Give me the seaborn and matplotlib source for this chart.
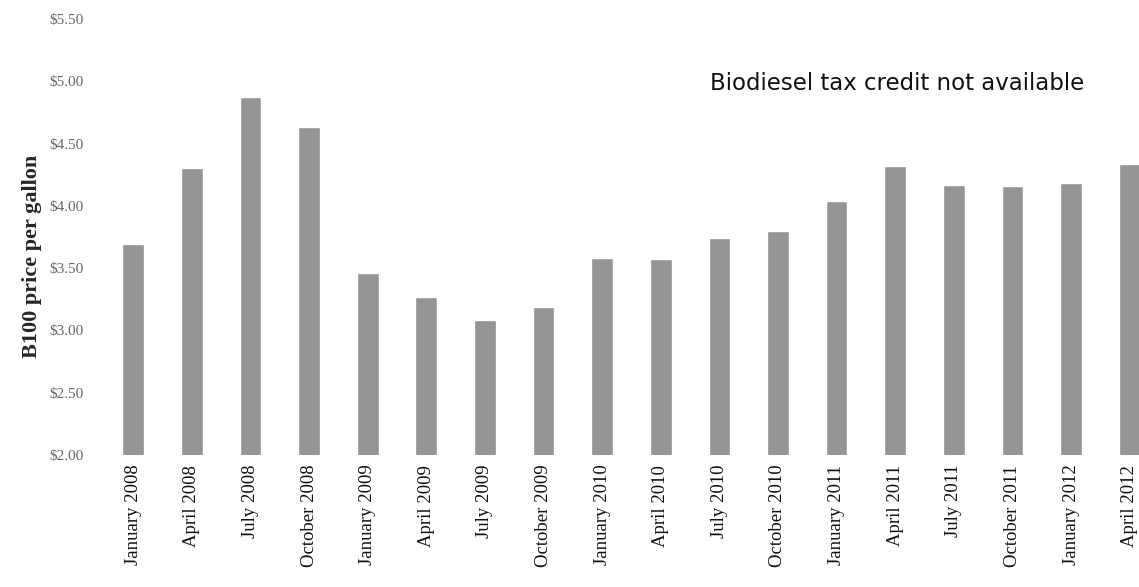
import pandas as pd
import seaborn as sns
import matplotlib
matplotlib.use('Agg')
import matplotlib.pyplot as plt

# quarterly B100 prices
months = ['January 2008', 'April 2008', 'July 2008', 'October 2008',
          'January 2009', 'April 2009', 'July 2009', 'October 2009',
          'January 2010', 'April 2010', 'July 2010', 'October 2010',
          'January 2011', 'April 2011', 'July 2011', 'October 2011',
          'January 2012', 'April 2012']
prices = [3.69, 4.30, 4.87, 4.63,
          3.46, 3.27, 3.08, 3.19,
          3.58, 3.57, 3.74, 3.80,
          4.04, 4.32, 4.17, 4.16,
          4.18, 4.34]
y_ticks = [2.00, 2.50, 3.00, 3.50, 4.00, 4.50, 5.00, 5.50]

df = pd.DataFrame({'month': months, 'price': prices})

sns.set_theme(style='white')

fig = plt.figure(figsize=(11.39, 5.87), dpi=100)
ax = fig.add_axes([104 / 1139, 1 - 455 / 587, (1139 - 104) / 1139, (455 - 19) / 587])

sns.barplot(data=df, x='month', y='price', color='#959595', width=0.37,
            saturation=1, ax=ax)

ax.set_ylim(2.0, 5.5)
ax.set_xlim(-0.5, 17.16)
ax.set_yticks(y_ticks)
ax.set_yticklabels(['${:.2f}'.format(v) for v in y_ticks],
                   fontfamily='Liberation Serif', fontsize=11, color='#666666')
ax.set_xticks(range(len(months)))
ax.set_xticklabels(months, rotation=90, fontfamily='Liberation Serif',
                   fontsize=13.5, color='#111111')
ax.tick_params(axis='y', length=0, pad=15)
ax.tick_params(axis='x', length=0, pad=7)

for s in ax.spines.values():
    s.set_visible(False)

ax.set_xlabel('')
ax.set_ylabel('B100 price per gallon', fontfamily='Liberation Serif',
              fontweight='bold', fontsize=16)
ax.yaxis.set_label_coords(-62 / 1035, 0.455)

fig.text(710 / 1139, 1 - 90 / 587, 'Biodiesel tax credit not available',
         fontfamily='DejaVu Sans', fontsize=16.5, color='#111111',
         va='baseline', ha='left')

fig.savefig('out.png', dpi=100)
